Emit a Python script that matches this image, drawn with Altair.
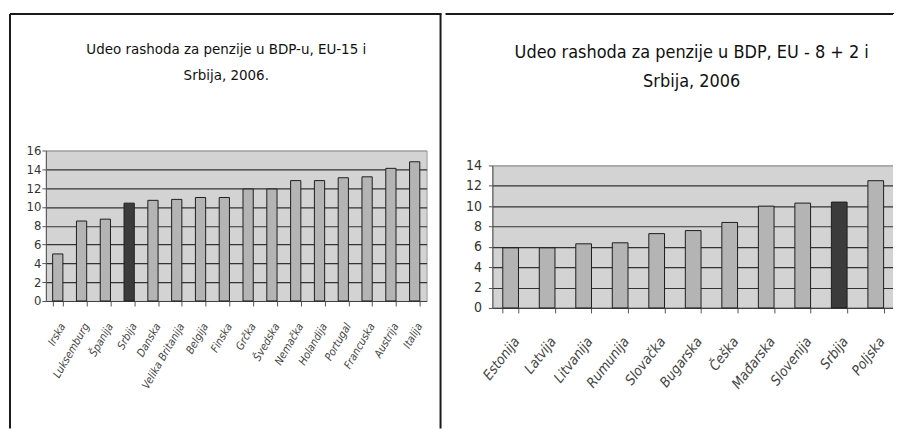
import altair as alt
import pandas as pd

# ---- data ----
left_countries = ["Irska", "Luksemburg", "Španija", "Srbija", "Danska", "Velika Britanija",
                  "Belgija", "Finska", "Grčka", "Švedska", "Nemačka", "Holandija",
                  "Portugal", "Francuska", "Austrija", "Italija"]
left_values = [5.0, 8.5, 8.7, 10.4, 10.7, 10.8, 11.0, 11.0, 11.9, 11.9, 12.8, 12.8,
               13.1, 13.2, 14.1, 14.8]

right_countries = ["Estonija", "Latvija", "Litvanija", "Rumunija", "Slovačka", "Bugarska",
                   "Češka", "Mađarska", "Slovenija", "Srbija", "Poljska"]
right_values = [5.9, 5.9, 6.3, 6.4, 7.3, 7.6, 8.4, 10.0, 10.3, 10.4, 12.5]

left_title = ["Udeo rashoda za penzije u BDP-u, EU-15 i", "Srbija, 2006."]
right_title = ["Udeo rashoda za penzije u BDP, EU - 8 + 2 i", "Srbija,  2006"]

left_ticks = [0, 2, 4, 6, 8, 10, 12, 14, 16]
right_ticks = [0, 2, 4, 6, 8, 10, 12, 14]

FONT = "Liberation Sans Narrow, Arial Narrow, DejaVu Sans Condensed, Liberation Sans, sans-serif"
FRAME = "#1a1a1a"


def one():
    return alt.Data(values=[{"k": 1}])


def hline(x1, x2, y, color=FRAME):
    return alt.Chart(one()).mark_rule(color=color, strokeWidth=2).encode(
        x=alt.value(x1), x2=alt.value(x2), y=alt.value(y))


def vline(x, y1, y2, color=FRAME):
    return alt.Chart(one()).mark_rule(color=color, strokeWidth=2).encode(
        x=alt.value(x), y=alt.value(y1), y2=alt.value(y2))


def title_text(line, x, y, size):
    return alt.Chart(alt.Data(values=[{"t": line}])).mark_text(
        font=FONT, fontSize=size, color="#111", align="center", baseline="middle"
    ).encode(text="t:N", x=alt.value(x), y=alt.value(y))


def bars(countries, values, ticks, ymax, angle, lsize, lpad, loff, ysize, ypad):
    df = pd.DataFrame({"country": countries, "value": values})
    return alt.Chart(df).mark_bar(stroke="#1e1e1e", strokeWidth=1).encode(
        x=alt.X("country:N", sort=countries, title=None,
                scale=alt.Scale(paddingInner=0.57, paddingOuter=0.285),
                axis=alt.Axis(labelAngle=angle, labelAlign="right", labelBaseline="middle",
                              labelFont=FONT, labelFontStyle="italic", labelFontSize=lsize,
                              labelColor="#444", labelPadding=lpad, labelOffset=loff,
                              tickBand="extent", tickSize=5, tickColor="#555",
                              domainColor="#444", labelOverlap=False, labelLimit=0)),
        y=alt.Y("value:Q", title=None,
                scale=alt.Scale(domain=[0, ymax], nice=False),
                axis=alt.Axis(values=ticks, grid=True,
                              gridColor=alt.condition(f"datum.value == {ymax}",
                                                      alt.value("#a0a0a0"), alt.value("#333333")),
                              gridWidth=1.2, tickSize=4, tickColor="#555",
                              domainColor="#555", labelFont=FONT, labelFontSize=ysize,
                              labelColor="#333", labelPadding=ypad)),
        color=alt.condition(alt.datum.country == "Srbija",
                            alt.value("#3b3b3b"), alt.value("#b4b4b4")),
    )


left = alt.layer(
    bars(left_countries, left_values, left_ticks, 16, -60, 11, 18, 5, 13, 1),
    title_text(left_title[0], 181, -102, 15),
    title_text(left_title[1], 181, -76, 15),
    hline(-36, 397, -137),
    vline(-36, -137, 279),
    vline(396, -137, 279),
).properties(width=382, height=151)

right = alt.layer(
    bars(right_countries, right_values, right_ticks, 14, -52, 14, 26, 6, 14, 7),
    title_text(right_title[0], 200, -113, 18),
    title_text(right_title[1], 200, -84, 18),
    hline(-47, 403, -152),
    vline(403, -152, 249, color="#ffffff"),
).properties(width=403, height=143)

chart = alt.hconcat(left, right, spacing=0, center=True).properties(
    padding={"left": 0, "top": 3, "right": 0, "bottom": 0}
).configure_view(fill="#d3d3d3", stroke="#9a9a9a")

chart.save("out.html", embed_options={"renderer": "svg", "actions": False})
